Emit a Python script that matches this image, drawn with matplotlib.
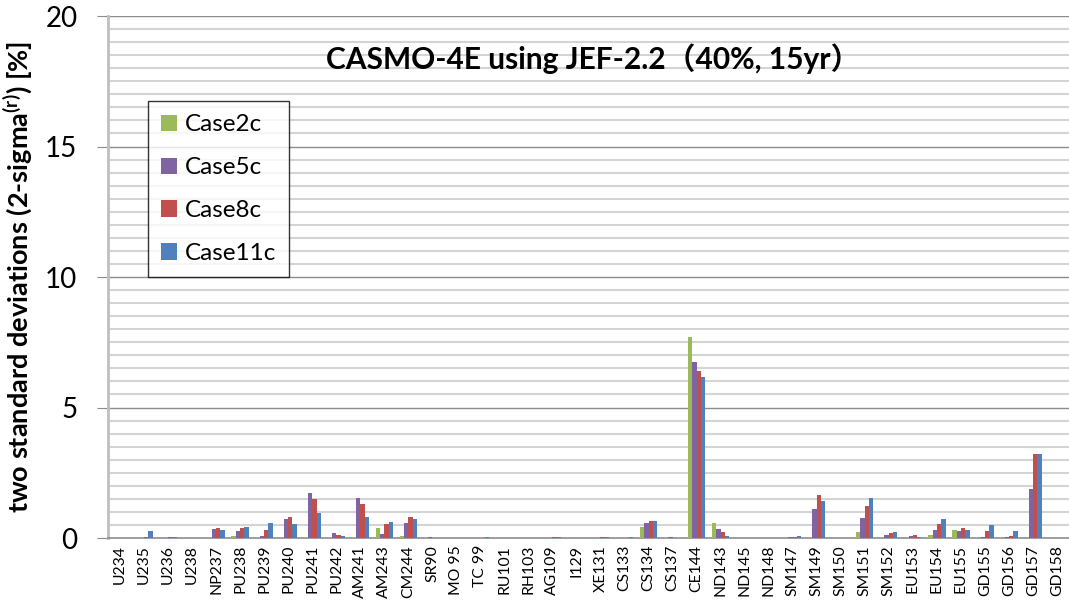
import numpy as np
import matplotlib.pyplot as plt
from matplotlib.patches import Patch

plt.rcParams['font.family'] = ['Lato', 'Noto Sans CJK JP', 'DejaVu Sans']

cats = ['U234', 'U235', 'U236', 'U238', 'NP237', 'PU238', 'PU239', 'PU240', 'PU241', 'PU242',
        'AM241', 'AM243', 'CM244', 'SR90', 'MO 95', 'TC 99', 'RU101', 'RH103', 'AG109', 'I129',
        'XE131', 'CS133', 'CS134', 'CS137', 'CE144', 'ND143', 'ND145', 'ND148', 'SM147', 'SM149',
        'SM150', 'SM151', 'SM152', 'EU153', 'EU154', 'EU155', 'GD155', 'GD156', 'GD157', 'GD158']

case2c = [0.01, 0.0, 0.0, 0.0, 0.01, 0.06, 0.01, 0.01, 0.04, 0.01,
          0.04, 0.37, 0.08, 0.02, 0.0, 0.0, 0.01, 0.0, 0.0, 0.0,
          0.0, 0.0, 0.42, 0.02, 7.70, 0.59, 0.0, 0.0, 0.0, 0.01,
          0.01, 0.22, 0.01, 0.01, 0.10, 0.30, 0.01, 0.01, 0.01, 0.0]
case5c = [0.01, 0.01, 0.01, 0.0, 0.33, 0.27, 0.06, 0.72, 1.71, 0.18,
          1.52, 0.15, 0.59, 0.02, 0.0, 0.0, 0.01, 0.0, 0.01, 0.0,
          0.01, 0.01, 0.59, 0.02, 6.74, 0.35, 0.0, 0.0, 0.02, 1.10,
          0.01, 0.75, 0.10, 0.08, 0.30, 0.27, 0.02, 0.04, 1.88, 0.0]
case8c = [0.01, 0.05, 0.02, 0.0, 0.37, 0.38, 0.29, 0.79, 1.49, 0.13,
          1.31, 0.52, 0.79, 0.01, 0.0, 0.01, 0.01, 0.0, 0.03, 0.0,
          0.03, 0.01, 0.67, 0.01, 6.38, 0.23, 0.0, 0.0, 0.05, 1.64,
          0.0, 1.21, 0.18, 0.10, 0.52, 0.37, 0.26, 0.09, 3.22, 0.0]
case11c = [0.01, 0.27, 0.05, 0.0, 0.30, 0.44, 0.58, 0.54, 0.95, 0.06,
           0.81, 0.60, 0.72, 0.01, 0.0, 0.02, 0.01, 0.0, 0.03, 0.01,
           0.04, 0.02, 0.64, 0.01, 6.18, 0.07, 0.0, 0.0, 0.07, 1.41,
           0.01, 1.55, 0.22, 0.05, 0.73, 0.30, 0.49, 0.26, 3.20, 0.0]

series = [('Case2c', case2c, '#9BBB59'),
          ('Case5c', case5c, '#8064A2'),
          ('Case8c', case8c, '#C0504D'),
          ('Case11c', case11c, '#4F81BD')]

fig = plt.figure(figsize=(10.69, 6.02), dpi=100)
ax = fig.add_axes([0.101, 0.1063, 0.899, 0.8671])

x = np.arange(len(cats))
w = 0.18
for i, (name, vals, col) in enumerate(series):
    ax.bar(x + (i - 1.5) * w, vals, w, color=col, label=name, zorder=3)

ax.set_xlim(-0.5, len(cats) - 0.5)
ax.set_ylim(0, 20)

# gridlines: light every 0.5, darker every 5
for v in np.arange(0.5, 20.01, 0.5):
    if v % 5 == 0:
        ax.axhline(v, color='#8C8C8C', lw=1.0, zorder=1)
    else:
        ax.axhline(v, color='#D4D4D4', lw=1.5, zorder=1)

ax.set_yticks([0, 5, 10, 15, 20])
ax.set_yticklabels(['0', '5', '10', '15', '20'], fontsize=20)
ax.tick_params(axis='y', length=8, color='#8C8C8C', pad=14)
ax.set_xticks(x)
ax.set_xticklabels(cats, rotation=90, fontsize=11.3)
ax.tick_params(axis='x', length=0, pad=5)

for s in ['top', 'right']:
    ax.spines[s].set_visible(False)
ax.spines['left'].set_color('#BFBFBF')
ax.spines['left'].set_linewidth(2)
ax.spines['bottom'].set_color('#8C8C8C')
ax.spines['bottom'].set_linewidth(1.2)

ax.set_ylabel('two standard deviations (2-sigma$^{\\mathregular{(r)}}$) [%]',
              fontsize=19.5, fontweight='bold', labelpad=7)

ax.text(0.505, 0.918, 'CASMO-4E using JEF-2.2（40%, 15yr）', transform=ax.transAxes,
        ha='center', va='center', fontsize=21.5, fontweight='bold')

handles = [Patch(facecolor=c, label=n) for n, _, c in series]
leg = ax.legend(handles=handles, loc='upper left', bbox_to_anchor=(0.0416, 0.837),
                borderaxespad=0, fontsize=17.5, frameon=True, fancybox=False,
                handlelength=0.66, handleheight=0.66, handletextpad=0.3,
                labelspacing=0.9, borderpad=0.55)
leg.get_frame().set_edgecolor('black')
leg.get_frame().set_linewidth(1.0)
leg.set_zorder(5)

fig.savefig('out.png', dpi=100)
